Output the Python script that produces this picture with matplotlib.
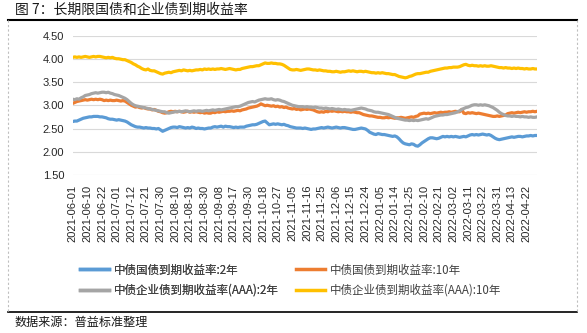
import matplotlib
matplotlib.use("Agg")
import matplotlib.pyplot as plt
from matplotlib.lines import Line2D
import pandas as pd
import numpy as np

plt.rcParams['font.family'] = ['Liberation Sans', 'Noto Sans CJK SC', 'DejaVu Sans']

# ---- data ----
holidays = ['2021-06-14', '2021-09-20', '2021-09-21', '2021-10-01', '2021-10-04',
            '2021-10-05', '2021-10-06', '2021-10-07', '2022-01-03', '2022-01-31',
            '2022-02-01', '2022-02-02', '2022-02-03', '2022-02-04', '2022-04-04',
            '2022-04-05']
dates = [d.strftime('%Y-%m-%d') for d in
         pd.bdate_range('2021-06-01', '2022-04-29', freq='C', holidays=holidays)]

tick_labels = ['2021-06-01', '2021-06-10', '2021-06-22', '2021-07-01', '2021-07-12',
               '2021-07-21', '2021-07-30', '2021-08-10', '2021-08-19', '2021-08-30',
               '2021-09-08', '2021-09-17', '2021-09-30', '2021-10-18', '2021-10-27',
               '2021-11-05', '2021-11-16', '2021-11-25', '2021-12-06', '2021-12-15',
               '2021-12-24', '2022-01-05', '2022-01-14', '2022-01-25', '2022-02-10',
               '2022-02-21', '2022-03-02', '2022-03-11', '2022-03-22', '2022-03-31',
               '2022-04-13', '2022-04-22']

gov_2y = [
    2.65, 2.66, 2.66, 2.68, 2.70, 2.72, 2.73, 2.74, 2.75, 2.75,
    2.76, 2.76, 2.76, 2.75, 2.75, 2.74, 2.73, 2.71, 2.70, 2.70,
    2.69, 2.68, 2.69, 2.68, 2.67, 2.66, 2.64, 2.61, 2.58, 2.56,
    2.54, 2.53, 2.53, 2.52, 2.51, 2.52, 2.51, 2.51, 2.50, 2.50,
    2.49, 2.50, 2.47, 2.44, 2.46, 2.48, 2.50, 2.52, 2.53, 2.53,
    2.52, 2.54, 2.53, 2.52, 2.51, 2.52, 2.51, 2.53, 2.52, 2.50,
    2.51, 2.50, 2.50, 2.49, 2.50, 2.51, 2.51, 2.53, 2.54, 2.53,
    2.54, 2.55, 2.53, 2.55, 2.54, 2.54, 2.53, 2.52, 2.53, 2.52,
    2.53, 2.53, 2.53, 2.55, 2.56, 2.57, 2.58, 2.58, 2.59, 2.61,
    2.63, 2.65, 2.66, 2.62, 2.58, 2.59, 2.60, 2.59, 2.60, 2.59,
    2.58, 2.59, 2.57, 2.56, 2.54, 2.53, 2.52, 2.51, 2.51, 2.51,
    2.50, 2.51, 2.50, 2.49, 2.48, 2.49, 2.49, 2.50, 2.51, 2.52,
    2.51, 2.52, 2.53, 2.52, 2.51, 2.52, 2.53, 2.52, 2.51, 2.52,
    2.52, 2.51, 2.50, 2.49, 2.48, 2.48, 2.49, 2.50, 2.51, 2.50,
    2.49, 2.46, 2.42, 2.40, 2.38, 2.37, 2.39, 2.38, 2.37, 2.37,
    2.36, 2.35, 2.34, 2.33, 2.34, 2.32, 2.28, 2.23, 2.19, 2.17,
    2.16, 2.15, 2.17, 2.16, 2.13, 2.12, 2.15, 2.19, 2.22, 2.25,
    2.28, 2.30, 2.30, 2.29, 2.28, 2.29, 2.31, 2.33, 2.32, 2.33,
    2.32, 2.33, 2.32, 2.33, 2.32, 2.31, 2.32, 2.33, 2.32, 2.34,
    2.36, 2.37, 2.36, 2.37, 2.36, 2.37, 2.38, 2.37, 2.36, 2.37,
    2.35, 2.32, 2.29, 2.27, 2.26, 2.27, 2.28, 2.29, 2.30, 2.31,
    2.32, 2.31, 2.32, 2.33, 2.33, 2.32, 2.33, 2.34, 2.34, 2.35,
    2.34, 2.35, 2.35]

gov_10y = [
    3.04, 3.06, 3.08, 3.09, 3.10, 3.11, 3.12, 3.11, 3.12, 3.13,
    3.12, 3.13, 3.12, 3.13, 3.12, 3.10, 3.11, 3.10, 3.11, 3.10,
    3.10, 3.11, 3.10, 3.09, 3.10, 3.09, 3.06, 3.03, 3.00, 2.98,
    2.96, 2.97, 2.95, 2.94, 2.95, 2.93, 2.92, 2.92, 2.90, 2.91,
    2.89, 2.87, 2.86, 2.84, 2.83, 2.84, 2.86, 2.87, 2.86, 2.87,
    2.86, 2.87, 2.86, 2.85, 2.86, 2.87, 2.85, 2.86, 2.85, 2.86,
    2.85, 2.84, 2.85, 2.83, 2.84, 2.83, 2.83, 2.85, 2.84, 2.86,
    2.85, 2.86, 2.87, 2.86, 2.87, 2.87, 2.88, 2.87, 2.88, 2.89,
    2.88, 2.90, 2.91, 2.92, 2.94, 2.95, 2.96, 2.97, 2.98, 3.00,
    3.03, 3.01, 2.99, 3.00, 2.99, 2.98, 2.99, 2.97, 2.98, 2.96,
    2.97, 2.95, 2.96, 2.94, 2.93, 2.92, 2.93, 2.91, 2.92, 2.90,
    2.91, 2.92, 2.91, 2.92, 2.91, 2.90, 2.88, 2.86, 2.85, 2.86,
    2.85, 2.87, 2.86, 2.88, 2.87, 2.88, 2.87, 2.86, 2.87, 2.86,
    2.87, 2.86, 2.86, 2.85, 2.86, 2.85, 2.84, 2.84, 2.82, 2.80,
    2.79, 2.78, 2.77, 2.77, 2.76, 2.75, 2.74, 2.74, 2.73, 2.73,
    2.74, 2.73, 2.74, 2.73, 2.72, 2.73, 2.73, 2.74, 2.73, 2.72,
    2.73, 2.74, 2.75, 2.74, 2.76, 2.77, 2.81, 2.82, 2.83, 2.82,
    2.83, 2.82, 2.83, 2.84, 2.83, 2.84, 2.85, 2.84, 2.85, 2.85,
    2.86, 2.85, 2.86, 2.87, 2.86, 2.86, 2.91, 2.83, 2.82, 2.84,
    2.83, 2.84, 2.83, 2.82, 2.83, 2.82, 2.81, 2.80, 2.79, 2.78,
    2.77, 2.76, 2.76, 2.77, 2.76, 2.77, 2.78, 2.79, 2.82, 2.83,
    2.84, 2.83, 2.84, 2.85, 2.84, 2.85, 2.86, 2.85, 2.86, 2.86,
    2.87, 2.86, 2.87]

corp_2y = [
    3.13, 3.12, 3.14, 3.13, 3.16, 3.18, 3.21, 3.22, 3.23, 3.25,
    3.26, 3.27, 3.26, 3.27, 3.28, 3.28, 3.27, 3.28, 3.26, 3.25,
    3.23, 3.22, 3.21, 3.19, 3.17, 3.15, 3.12, 3.08, 3.04, 3.01,
    2.99, 2.98, 2.97, 2.96, 2.95, 2.94, 2.93, 2.92, 2.91, 2.90,
    2.89, 2.88, 2.87, 2.86, 2.86, 2.84, 2.83, 2.84, 2.85, 2.86,
    2.86, 2.87, 2.86, 2.87, 2.88, 2.87, 2.86, 2.87, 2.88, 2.87,
    2.88, 2.88, 2.87, 2.88, 2.89, 2.88, 2.89, 2.90, 2.89, 2.90,
    2.91, 2.90, 2.91, 2.92, 2.93, 2.94, 2.95, 2.96, 2.97, 2.97,
    2.98, 3.00, 3.02, 3.04, 3.06, 3.07, 3.08, 3.07, 3.09, 3.11,
    3.12, 3.13, 3.14, 3.13, 3.13, 3.14, 3.12, 3.11, 3.12, 3.11,
    3.09, 3.08, 3.06, 3.04, 3.02, 3.00, 2.99, 2.98, 2.97, 2.97,
    2.97, 2.96, 2.97, 2.96, 2.96, 2.95, 2.96, 2.95, 2.94, 2.94,
    2.93, 2.94, 2.93, 2.92, 2.93, 2.92, 2.91, 2.92, 2.91, 2.90,
    2.91, 2.90, 2.90, 2.89, 2.90, 2.91, 2.92, 2.93, 2.94, 2.93,
    2.92, 2.90, 2.89, 2.88, 2.86, 2.85, 2.85, 2.84, 2.83, 2.82,
    2.81, 2.80, 2.78, 2.76, 2.74, 2.72, 2.71, 2.70, 2.69, 2.68,
    2.68, 2.67, 2.68, 2.67, 2.68, 2.67, 2.68, 2.69, 2.70, 2.71,
    2.70, 2.72, 2.74, 2.76, 2.77, 2.78, 2.79, 2.79, 2.80, 2.80,
    2.81, 2.82, 2.83, 2.84, 2.86, 2.88, 2.91, 2.93, 2.95, 2.96,
    2.98, 3.00, 3.01, 3.01, 3.00, 3.01, 3.00, 3.01, 3.00, 2.99,
    2.97, 2.95, 2.92, 2.89, 2.85, 2.82, 2.80, 2.78, 2.77, 2.77,
    2.76, 2.77, 2.76, 2.76, 2.75, 2.76, 2.75, 2.75, 2.74, 2.75,
    2.74, 2.74, 2.75]

corp_10y = [
    4.03, 4.04, 4.03, 4.04, 4.03, 4.04, 4.05, 4.04, 4.03, 4.04,
    4.05, 4.04, 4.05, 4.05, 4.04, 4.03, 4.02, 4.03, 4.02, 4.03,
    4.01, 4.00, 4.00, 3.99, 3.98, 3.98, 3.96, 3.94, 3.92, 3.89,
    3.87, 3.84, 3.82, 3.79, 3.77, 3.76, 3.78, 3.75, 3.74, 3.74,
    3.72, 3.70, 3.68, 3.67, 3.69, 3.70, 3.71, 3.70, 3.72, 3.73,
    3.74, 3.75, 3.74, 3.76, 3.75, 3.74, 3.75, 3.74, 3.75, 3.76,
    3.76, 3.77, 3.76, 3.78, 3.77, 3.78, 3.77, 3.78, 3.77, 3.78,
    3.78, 3.79, 3.78, 3.77, 3.78, 3.79, 3.78, 3.77, 3.76, 3.77,
    3.77, 3.79, 3.80, 3.81, 3.82, 3.83, 3.83, 3.84, 3.85, 3.85,
    3.87, 3.89, 3.91, 3.90, 3.90, 3.91, 3.90, 3.90, 3.89, 3.89,
    3.88, 3.86, 3.83, 3.80, 3.77, 3.76, 3.76, 3.77, 3.76, 3.75,
    3.76, 3.77, 3.78, 3.78, 3.77, 3.76, 3.76, 3.75, 3.76, 3.75,
    3.74, 3.74, 3.73, 3.73, 3.72, 3.72, 3.73, 3.72, 3.71, 3.72,
    3.72, 3.73, 3.74, 3.73, 3.74, 3.73, 3.72, 3.73, 3.73, 3.72,
    3.73, 3.72, 3.71, 3.70, 3.70, 3.69, 3.70, 3.69, 3.70, 3.69,
    3.68, 3.68, 3.67, 3.66, 3.66, 3.64, 3.62, 3.61, 3.60, 3.59,
    3.60, 3.62, 3.63, 3.65, 3.67, 3.68, 3.68, 3.69, 3.70, 3.71,
    3.71, 3.73, 3.74, 3.75, 3.76, 3.77, 3.78, 3.79, 3.80, 3.80,
    3.81, 3.81, 3.82, 3.82, 3.82, 3.83, 3.85, 3.87, 3.88, 3.86,
    3.85, 3.86, 3.85, 3.85, 3.84, 3.85, 3.84, 3.85, 3.84, 3.84,
    3.85, 3.84, 3.83, 3.82, 3.81, 3.81, 3.80, 3.81, 3.80, 3.80,
    3.79, 3.80, 3.79, 3.80, 3.79, 3.79, 3.78, 3.79, 3.78, 3.78,
    3.79, 3.78, 3.78]

series_names = ['中债国债到期收益率:2年', '中债国债到期收益率:10年',
                '中债企业债到期收益率(AAA):2年', '中债企业债到期收益率(AAA):10年']
series_colors = ['#5B9BD5', '#ED7D31', '#A5A5A5', '#FFC000']

title_text = '图 7：长期限国债和企业债到期收益率'
source_text = '数据来源：普益标准整理'

# ---- figure ----
W, H = 587, 333
fig = plt.figure(figsize=(W / 100, H / 100), dpi=100)
fig.patch.set_facecolor('white')

ax = fig.add_axes([72.7 / W, 1 - 175 / H, (537 - 72.7) / W, (175 - 35.5) / H])

n = min(len(dates), len(gov_2y), len(gov_10y), len(corp_2y), len(corp_10y))
x = np.arange(n)
all_series = [gov_2y, gov_10y, corp_2y, corp_10y]
lines = []
for vals, name, col in zip(all_series, series_names, series_colors):
    ln, = ax.plot(x, vals[:n], color=col, lw=2.3, label=name, zorder=3)
    lines.append(ln)

ax.set_xlim(0, n - 1)
ax.set_ylim(1.5, 4.5)
yt = np.arange(1.5, 4.51, 0.5)
ax.set_yticks(yt)
ax.set_yticklabels([f'{v:.2f}' for v in yt])
pos = [dates.index(t) for t in tick_labels if t in dates]
ax.set_xticks(pos)
ax.set_xticklabels([dates[p] for p in pos], rotation=90)
ax.tick_params(axis='both', length=0, labelsize=8, colors='#262626')
ax.tick_params(axis='y', pad=6)
ax.tick_params(axis='x', pad=7)
ax.grid(axis='y', color='#d9d9d9', lw=0.8, zorder=0)
for s in ax.spines.values():
    s.set_visible(False)

cjk = ['Noto Sans CJK SC', 'DejaVu Sans']
leg_kw = dict(loc='upper left', frameon=False, borderpad=0, borderaxespad=0,
              handlelength=2.5, handletextpad=0.45, labelspacing=0.65,
              prop={'family': cjk, 'size': 8.3})
leg1 = fig.legend([lines[0], lines[2]], [series_names[0], series_names[2]],
                  bbox_to_anchor=(80 / W, 1 - 263.5 / H), **leg_kw)
leg2 = fig.legend([lines[1], lines[3]], [series_names[1], series_names[3]],
                  bbox_to_anchor=(296 / W, 1 - 263.5 / H), **leg_kw)
for lg in (leg1, leg2):
    for t in lg.get_texts():
        t.set_color('#404040')
    for h in lg.legend_handles:
        h.set_linewidth(2.5)
fig.add_artist(leg1)

fig.text(15 / W, 1 - 10 / H, title_text, family=cjk, fontsize=10,
         color='#1a1a1a', va='center', ha='left')
fig.text(15 / W, 1 - 322.5 / H, source_text, family=cjk, fontsize=8.7,
         color='#1a1a1a', va='center', ha='left')

# frame lines
fig.add_artist(Line2D([8 / W, 577 / W], [1 - 20 / H] * 2, color='black', lw=1.5))
fig.add_artist(Line2D([8 / W, 577 / W], [1 - 312 / H] * 2, color='black', lw=1.2))
for xx in (8, 577):
    fig.add_artist(Line2D([xx / W] * 2, [1 - 20 / H, 1 - 312 / H], color='#bfbfbf',
                          lw=0.8, linestyle=(0, (2, 2))))

fig.savefig('out.png', dpi=100, facecolor='white')
